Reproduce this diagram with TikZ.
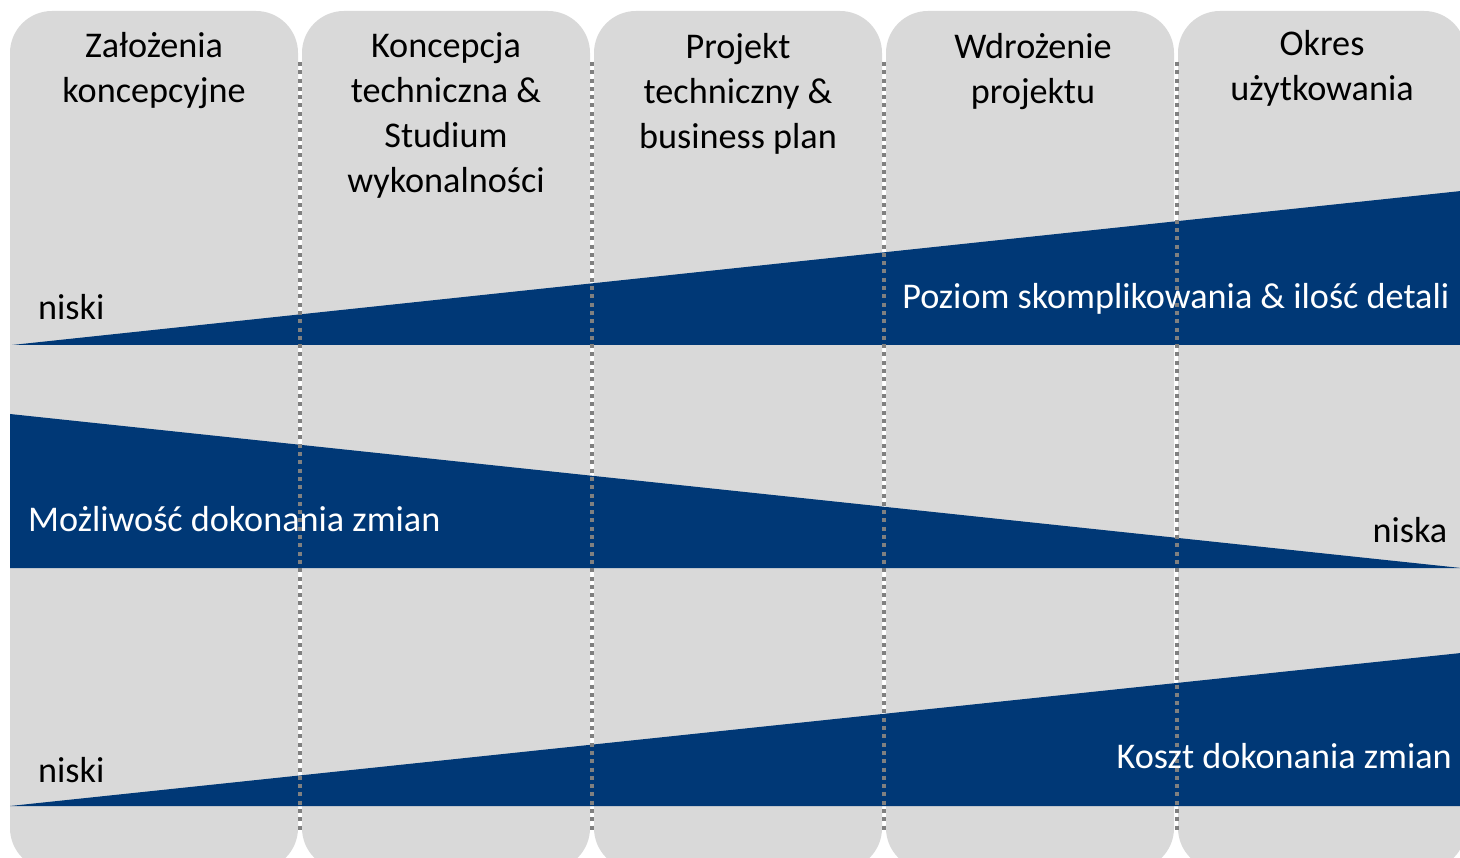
\documentclass[tikz,border=0pt]{standalone}
\usepackage{fontspec}
\setmainfont{Carlito}
\definecolor{colgray}{HTML}{D9D9D9}
\definecolor{navy}{HTML}{003876}
\definecolor{dotgray}{HTML}{808080}
\begin{document}
\begin{tikzpicture}[x=1pt,y=-1pt,
  column/.style={fill=colgray, rounded corners=42pt},
  band/.style={fill=navy},
  sep/.style={draw=dotgray, line width=4pt, dash pattern=on 4pt off 4.3pt},
  head/.style={font=\fontsize{36.2}{45}\selectfont, align=center, anchor=base, inner sep=0pt},
  lab/.style={font=\fontsize{36.2}{43}\selectfont, inner sep=0pt}]
\useasboundingbox (0,0) rectangle (1460,858);
\clip (0,0) rectangle (1460,858);
\fill[white] (0,0) rectangle (1460,858);
% columns
\foreach \l/\r in {10/298, 302/590, 594/882, 886/1174, 1178/1466}
  \fill[column] (\l,11) rectangle (\r,870);
% bands
\fill[band] (12,345) -- (1461,191) -- (1461,345) -- cycle;
\fill[band] (10,414) -- (1461,568) -- (10,568) -- cycle;
\fill[band] (10,806) -- (1461,653) -- (1461,806) -- cycle;
% separators
\coordinate (s1t) at (300,62);  \coordinate (s1b) at (300,832);
\coordinate (s2t) at (592,62);  \coordinate (s2b) at (592,832);
\coordinate (s3t) at (884,62);  \coordinate (s3b) at (884,832);
\coordinate (s4t) at (1177,62); \coordinate (s4b) at (1177,832);
\draw[sep] (s1t) -- (s1b);
\draw[sep] (s2t) -- (s2b);
\draw[sep] (s3t) -- (s3b);
\draw[sep] (s4t) -- (s4b);
% headers (anchor base = baseline of last line)
\node[head] (h1) at (154,103) {Założenia\\koncepcyjne};
\node[head] (h2) at (446,193) {Koncepcja\\techniczna \&\\Studium\\wykonalności};
\node[head] (h3) at (738,149) {Projekt\\techniczny \&\\business plan};
\node[head] (h4) at (1033,104) {Wdrożenie\\projektu};
\node[head] (h5) at (1322,101) {Okres\\użytkowania};
% labels
\node[lab, anchor=base west] (niski1) at (38,320) {niski};
\node[lab, anchor=base east, text=white] (poziom) at (1449.5,309) {Poziom skomplikowania \& ilość detali};
\node[lab, anchor=base west, text=white] (mozl) at (28,531) {Możliwość dokonania zmian};
\node[lab, anchor=base east] (niska) at (1447.5,543) {niska};
\node[lab, anchor=base west] (niski2) at (38,782) {niski};
\node[lab, anchor=base east, text=white] (koszt) at (1452,768) {Koszt dokonania zmian};
\end{tikzpicture}
\end{document}
